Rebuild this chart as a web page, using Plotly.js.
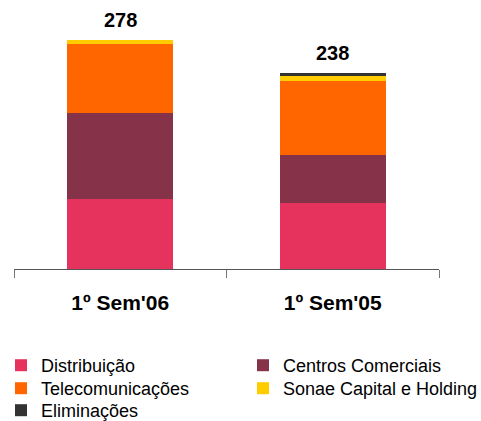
<!DOCTYPE html>
<html>
<head>
<meta charset="utf-8">
<script src="https://cdn.plot.ly/plotly-3.0.1.min.js"></script>
<style>html,body{margin:0;padding:0;background:#fff;}#chart{width:481px;height:421px;}</style>
</head>
<body>
<div id="chart"></div>
<script>
const categories = ["1º Sem'06", "1º Sem'05"];
const distribuicao = [85, 80];
const centrosComerciais = [104, 59];
const telecomunicacoes = [84, 89];
const sonaeCapital = [5, 7];
const eliminacoes = [0, 3];
const totals = [278, 238];

const FONT = "Liberation Sans, Arial, sans-serif";

const series = [
  {name: 'Distribuição', y: distribuicao, color: '#E5335D', legend: 'legend'},
  {name: 'Centros Comerciais', y: centrosComerciais, color: '#86334A', legend: 'legend2'},
  {name: 'Telecomunicações', y: telecomunicacoes, color: '#FF6600', legend: 'legend3'},
  {name: 'Sonae Capital e Holding', y: sonaeCapital, color: '#FFCC00', legend: 'legend4'},
  {name: 'Eliminações', y: eliminacoes, color: '#333333', legend: 'legend5'}
];

const traces = series.map(s => ({
  type: 'bar',
  name: s.name,
  x: categories,
  y: s.y,
  width: 0.5,
  marker: {color: s.color, line: {width: 0}},
  legend: s.legend,
  hoverinfo: 'skip'
}));

const annotations = categories.map((c, i) => ({
  x: c, y: totals[i], xref: 'x', yref: 'y',
  text: '<b>' + totals[i] + '</b>',
  showarrow: false, yanchor: 'bottom', yshift: 7,
  font: {family: FONT, size: 20, color: '#000'}
}));

function leg(x, y) {
  return {
    orientation: 'v', xref: 'container', yref: 'container',
    xanchor: 'left', yanchor: 'top', traceorder: 'normal',
    font: {family: FONT, size: 18, color: '#000'},
    bgcolor: 'rgba(0,0,0,0)', borderwidth: 0, tracegroupgap: 0,
    x: x, y: y
  };
}

const colL = 1 / 481, colR = 243 / 481;
const row1 = 1 - 347 / 421, row2 = 1 - 370 / 421, row3 = 1 - 392 / 421;

const layout = {
  width: 481, height: 421,
  margin: {l: 14, r: 42, t: 22, b: 152, autoexpand: false},
  paper_bgcolor: '#fff', plot_bgcolor: '#fff',
  barmode: 'stack',
  showlegend: true,
  font: {family: FONT, color: '#000'},
  xaxis: {
    type: 'category', range: [-0.5, 1.5],
    showline: true, linecolor: '#555', linewidth: 1,
    ticks: 'outside', ticklen: 8, tickcolor: '#777', tickwidth: 1,
    tickson: 'boundaries', tickangle: 0,
    ticklabelstandoff: 15,
    showgrid: false, zeroline: false,
    tickfont: {family: FONT, size: 21, color: '#000', weight: 'bold'},
    automargin: false,
    fixedrange: true
  },
  yaxis: {
    range: [0, 300], visible: false, showgrid: false, zeroline: false, fixedrange: true
  },
  legend: leg(colL, row1),
  legend2: leg(colR, row1),
  legend3: leg(colL, row2),
  legend4: leg(colR, row2),
  legend5: leg(colL, row3),
  annotations: annotations
};

Plotly.newPlot('chart', traces, layout, {displayModeBar: false, staticPlot: true});
</script>
</body>
</html>
